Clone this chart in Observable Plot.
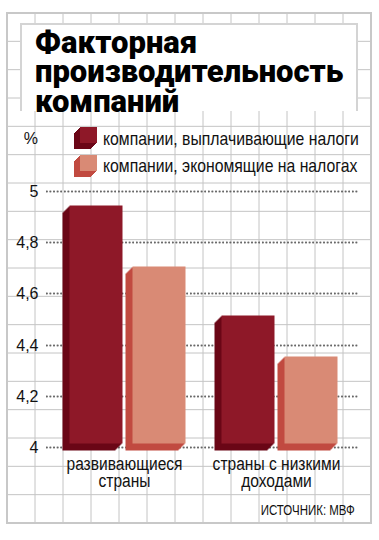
<!DOCTYPE html>
<html><head><meta charset="utf-8">
<script src="https://cdn.jsdelivr.net/npm/d3@7"></script>
<script src="https://cdn.jsdelivr.net/npm/@observablehq/plot@0.6"></script>
<style>
html,body{margin:0;padding:0;background:#fff;}
#wrap{position:relative;width:379px;height:540px;overflow:hidden;font-family:"Liberation Sans",Arial,sans-serif;color:#111;}
#bg{position:absolute;left:0;top:0;}
#chart{position:absolute;left:0;top:0;}
#titlebox{position:absolute;left:20px;top:23px;width:338px;height:88px;box-sizing:border-box;background:#fff;border:2px solid #d4d4d4;border-bottom:none;}
#title{position:absolute;left:35px;top:27.5px;font-family:Roboto,"DejaVu Sans",sans-serif;font-weight:900;font-size:31px;line-height:29.5px;color:#000;white-space:nowrap;}
.txt{position:absolute;white-space:nowrap;}
.leg{font-size:19px;line-height:19px;left:103px;transform:scaleX(0.83);transform-origin:0 50%;}
.sw{position:absolute;width:17px;height:16px;left:80px;}
#pct{font-size:16px;line-height:16px;right:341px;top:131px;}
#src{font-size:14px;line-height:14px;right:24px;top:503px;transform:scaleX(0.82);transform-origin:100% 50%;}
</style></head>
<body>
<div id="wrap">
  <svg id="bg" width="379" height="540"></svg>
  <div id="titlebox"></div>
  <div id="title"></div>
  <div id="pct" class="txt"></div>
  <div id="legend"></div>
  <div id="src" class="txt"></div>
  <div id="chart"></div>
</div>
<script>
// ---- data ----
const titleLines = ["Факторная", "производительность", "компаний"];
const unitLabel = "%";
const categories = ["развивающиеся страны", "страны с низкими доходами"];
const categoryLines = [["развивающиеся", "страны"], ["страны с низкими", "доходами"]];
const series = ["компании, выплачивающие налоги", "компании, экономящие на налогах"];
const payingValues = [4.93, 4.5];
const avoidingValues = [4.69, 4.34];
const yTicks = [4, 4.2, 4.4, 4.6, 4.8, 5];
const sourceText = "ИСТОЧНИК: МВФ";

const frontColors = ["#8e1828", "#d98a75"];
const sideColors = ["#6b0617", "#c14a40"];

// ---- background graph paper ----
const bg = d3.select("#bg");
const gx0 = 7, gx1 = 371, gy0 = 13, gy1 = 523;
const nx = 13, ny = 18;
bg.append("g").attr("stroke", "#c4c4c4").attr("stroke-width", 1)
  .selectAll("line").data(d3.range(1, nx)).join("line")
  .attr("x1", i => gx0 + i * (gx1 - gx0) / nx).attr("x2", i => gx0 + i * (gx1 - gx0) / nx)
  .attr("y1", gy0).attr("y2", gy1);
bg.append("g").attr("stroke", "#c4c4c4").attr("stroke-width", 1)
  .selectAll("line").data(d3.range(1, ny)).join("line")
  .attr("y1", i => gy0 + i * (gy1 - gy0) / ny).attr("y2", i => gy0 + i * (gy1 - gy0) / ny)
  .attr("x1", gx0).attr("x2", gx1);
bg.append("rect").attr("x", gx0).attr("y", gy0).attr("width", gx1 - gx0).attr("height", gy1 - gy0)
  .attr("fill", "none").attr("stroke", "#c8c8c8").attr("stroke-width", 2);

// ---- texts ----
document.getElementById("title").innerHTML = titleLines.join("<br>");
document.getElementById("pct").textContent = unitLabel;
document.getElementById("src").textContent = sourceText;

const legend = document.getElementById("legend");
series.forEach((s, i) => {
  const sw = document.createElement("div");
  sw.className = "sw";
  sw.style.top = (127 + i * 28) + "px";
  sw.style.background = frontColors[i];
  sw.style.boxShadow = d3.range(1, 7).map(k => `-${k}px ${k}px 0 ${sideColors[i]}`).join(",");
  legend.appendChild(sw);
  const t = document.createElement("div");
  t.className = "txt leg";
  t.style.top = (129 + i * 27) + "px";
  t.textContent = s;
  legend.appendChild(t);
});

// ---- chart ----
const W = 379, H = 540, mTop = 191, mBottom = 93, mLeft = 46, mRight = 21;
const data = categories.flatMap((c, i) => [
  {category: c, series: series[0], value: payingValues[i]},
  {category: c, series: series[1], value: avoidingValues[i]}
]);
const yBase = yTicks[0];
const depth = 7;
const barMarks = series.flatMap((s, si) => d3.range(depth + 1).map(k =>
  Plot.barY(data.filter(d => d.series === s), {
    x: "category",
    y1: () => yBase,
    y2: "value",
    insetLeft: si ? 63 : 0,
    insetRight: si ? 0 : 63,
    dx: -3.5 + k,
    dy: 3.5 - k,
    fill: k === depth ? frontColors[si] : sideColors[si]
  })
));

const chart = Plot.plot({
  width: W,
  height: H,
  marginTop: mTop,
  marginBottom: mBottom,
  marginLeft: mLeft,
  marginRight: mRight,
  style: {background: "transparent", fontFamily: "'Liberation Sans',Arial,sans-serif", fontSize: "16px", overflow: "visible"},
  x: {domain: categories, paddingInner: 0.237, paddingOuter: 0.1435, align: 0.462, axis: null},
  y: {domain: [4, 5], round: true, ticks: yTicks, tickFormat: d => String(d).replace(".", ","), tickSize: 0, tickPadding: 8, label: null},
  marks: [
    Plot.ruleY(yTicks, {stroke: "#666", strokeWidth: 1.6, strokeDasharray: "1.6 2"}),
    ...barMarks,
    Plot.text(categories, {
      x: d => d,
      text: d => categoryLines[categories.indexOf(d)].join("\n"),
      frameAnchor: "bottom",
      lineAnchor: "top",
      dy: 10.5,
      lineHeight: 0.9,
      fontSize: 19,
      fill: "#111"
    })
  ]
});
// condense the category labels horizontally (the original uses a narrow face)
d3.select(chart).selectAll("g[aria-label='text'] text").each(function() {
  const t = this.getAttribute("transform") || "";
  this.setAttribute("transform", t + " scale(0.82,1)");
});
document.getElementById("chart").appendChild(chart);

// dotted value lines, positioned through the chart's own y scale (drawn behind the bars)
const yScale = chart.scale("y");
bg.append("g")
  .attr("stroke", "#666").attr("stroke-width", 1.6).attr("stroke-dasharray", "1.6 2")
  .selectAll("line").data(yTicks).join("line")
  .attr("x1", mLeft).attr("x2", W - mRight)
  .attr("y1", v => Math.round(yScale.apply(v)) + 0.5)
  .attr("y2", v => Math.round(yScale.apply(v)) + 0.5);
</script>
</body></html>
